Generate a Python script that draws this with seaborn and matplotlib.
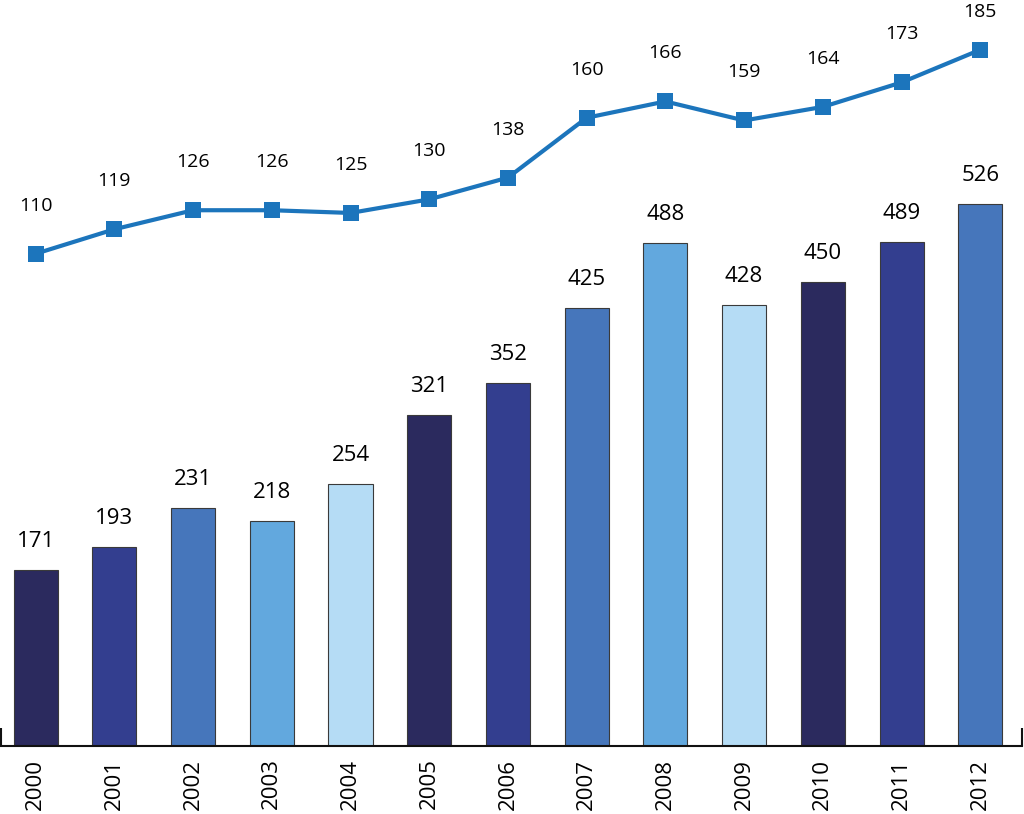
import matplotlib
matplotlib.use("Agg")
import matplotlib.pyplot as plt
import seaborn as sns
import numpy as np
import pandas as pd

years = ["2000", "2001", "2002", "2003", "2004", "2005", "2006",
         "2007", "2008", "2009", "2010", "2011", "2012"]
bar_values = [171, 193, 231, 218, 254, 321, 352, 425, 488, 428, 450, 489, 526]
line_values = [110, 119, 126, 126, 125, 130, 138, 160, 166, 159, 164, 173, 185]
base_colors = ["#2B2A5E", "#333E8F", "#4676BB", "#62A8DE", "#B5DCF5"]

sns.set_theme(style="white")
plt.rcParams['font.family'] = ['Open Sans', 'DejaVu Sans']

W, H = 1024, 814
fig = plt.figure(figsize=(W / 100, H / 100), dpi=100)
ax = fig.add_axes([1 / W, 68 / H, 1021 / W, 746 / H])

df = pd.DataFrame({"year": years, "value": bar_values})
palette = [base_colors[i % len(base_colors)] for i in range(len(years))]
sns.barplot(data=df, x="year", y="value", hue="year", palette=palette,
            legend=False, width=0.56, edgecolor="#3a3a3a", linewidth=0.8,
            saturation=1, ax=ax)

ax.set_xlim(-0.44, 12.53)
ax.set_ylim(0, 724)
ax.set_xlabel("")
ax.set_ylabel("")
ax.set_yticks([])
for s in ["top", "right", "left"]:
    ax.spines[s].set_visible(False)
ax.spines["bottom"].set_color("#111111")
ax.spines["bottom"].set_linewidth(1.5)
ax.tick_params(axis="x", which="major", length=0, pad=9, labelsize=16,
               labelrotation=90, colors="black")
ax.set_xticks([-0.44 + 0.004, 12.53 - 0.004], minor=True)
ax.tick_params(axis="x", which="minor", bottom=True, direction="in",
               length=13, width=1.5, color="#111111")

for cont in ax.containers:
    ax.bar_label(cont, fmt="%d", padding=13, fontsize=16, color="black")

ax2 = ax.twinx()
ax2.set_ylim(-71, 203.3)
pos = np.arange(len(years))
sns.lineplot(x=pos, y=line_values, ax=ax2, color="#1C75BC", linewidth=3,
             marker="s", markersize=11.5, markeredgewidth=0,
             markeredgecolor="#1C75BC")
ax2.set_yticks([])
ax2.set_ylabel("")
for s in ["top", "right", "left", "bottom"]:
    ax2.spines[s].set_visible(False)
ax2.set_xlim(-0.44, 12.53)

fig.canvas.draw()
for x, v in zip(pos, line_values):
    ypx = ax2.transData.transform((x, v))[1]
    top_px = fig.bbox.height
    off = min(48, top_px - 12 - ypx)
    ax2.annotate(str(v), (x, v), xytext=(0, off * 72 / 100),
                 textcoords="offset points", ha="center", va="center",
                 fontsize=14, color="black", annotation_clip=False)

fig.savefig("out.png", dpi=100)
